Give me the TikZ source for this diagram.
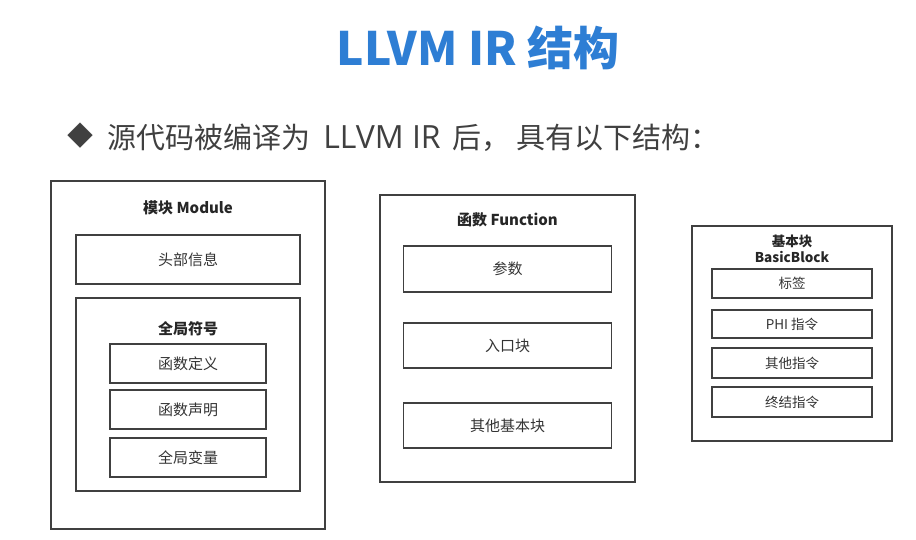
\documentclass[tikz,border=0pt]{standalone}
\usepackage{fontspec}
\setmainfont{Noto Sans CJK SC}
\newfontfamily\latinfont{Open Sans}
\usetikzlibrary{positioning}
\definecolor{titleblue}{RGB}{46,126,212}
\definecolor{linegray}{RGB}{64,64,64}
\definecolor{textgray}{RGB}{51,51,51}
\newcommand{\lblfont}{\fontsize{15}{18}\selectfont}
\newcommand{\smlfont}{\fontsize{13.5}{16}\selectfont}
\tikzset{
  frame/.style 2 args={draw=linegray, line width=1.3pt, minimum width=#1, minimum height=#2, inner sep=0pt},
  part/.style 2 args={frame={#1}{#2}, text=textgray, font=\lblfont},
  bpart/.style 2 args={frame={#1}{#2}, text=textgray, font=\smlfont},
  head/.style={text=black!85, font=\lblfont\bfseries, inner sep=0pt}
}

\begin{document}
\begin{tikzpicture}[x=1pt, y=-1pt]
  \useasboundingbox (0,0) rectangle (916,539);

  % title and bullet line
  \node[text=titleblue, font=\fontsize{46}{54}\selectfont\bfseries] (title) at (478,48) {LLVM IR 结构};
  \node[text=black!75, font=\fontsize{26}{30}\selectfont, inner sep=0pt] (bullet) at (80.5,136) {◆};
  \node[text=black!75, font=\fontsize{29}{34}\selectfont, anchor=west, inner sep=0pt] (intro) at (107,138)
    {源代码被编译为\hspace{0.45em}{\latinfont\fontsize{32}{34}\selectfont LLVM IR}\hspace{0.4em}后，\hspace{0.2em}具有以下结构：};

  % module
  \node[frame={274pt}{348pt}] (module) at (188,355) {};
  \node[head] (moduletitle) at (188,208) {模块 Module};
  \node[part={224pt}{49pt}] (header) at (188,259.5) {头部信息};
  \node[frame={224pt}{193pt}] (globals) at (188,394.5) {};
  \node[head] (globalstitle) at (188,329) {全局符号};
  \node[part={156pt}{39pt}] (fundef) at (188,363.5) {函数定义};
  \node[part={156pt}{39pt}] (fundecl) at (188,409.5) {函数声明};
  \node[part={156pt}{39pt}] (globalvar) at (188,457.5) {全局变量};

  % function
  \node[frame={255pt}{287pt}] (function) at (507.5,338.5) {};
  \node[head] (functiontitle) at (507.5,220) {函数 Function};
  \node[part={208pt}{46pt}] (args) at (507.5,269) {参数};
  \node[part={208pt}{45pt}] (entry) at (507.5,345.5) {入口块};
  \node[part={208pt}{45pt}] (otherbb) at (507.5,425.5) {其他基本块};

  % basic block
  \node[frame={200pt}{215pt}] (block) at (792,333.5) {};
  \node[head, font=\smlfont\bfseries, align=center] (blocktitle) at (792,248.5) {基本块\\BasicBlock};
  \node[bpart={160pt}{29pt}] (label) at (792,283.5) {标签};
  \node[bpart={160pt}{28pt}] (phi) at (792,324) {PHI 指令};
  \node[bpart={160pt}{30pt}] (otherinst) at (792,363) {其他指令};
  \node[bpart={160pt}{30pt}] (term) at (792,402) {终结指令};
\end{tikzpicture}
\end{document}
